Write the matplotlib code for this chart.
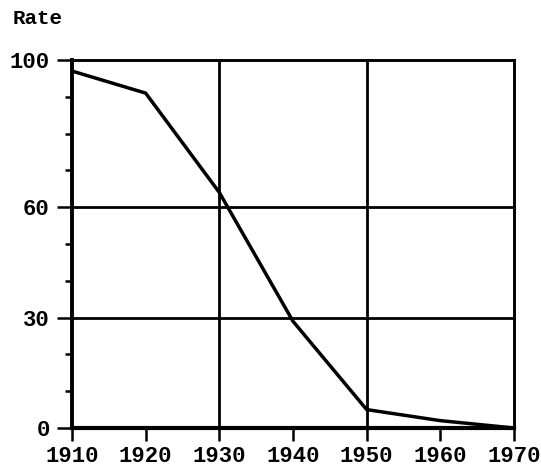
import numpy as np
import matplotlib
matplotlib.use("Agg")
import matplotlib.pyplot as plt
from matplotlib.ticker import MultipleLocator

# values
years = [1910, 1920, 1930, 1940, 1950, 1960, 1970]
rate = [97, 91, 64, 29, 5, 2, 0]
ytick_vals = [0, 30, 60, 100]
xtick_vals = [1910, 1920, 1930, 1940, 1950, 1960, 1970]
grid_x = [1930, 1950]
grid_y = [30, 60]

font = {"family": "Liberation Mono", "weight": "bold", "size": 16}

fig = plt.figure(figsize=(5.41, 4.73), dpi=100)
ax = fig.add_axes([72 / 541, 45 / 473, (514 - 72) / 541, (413 - 45) / 473])

ax.plot(years, rate, color="black", lw=2.5, solid_joinstyle="miter")

for gx in grid_x:
    ax.axvline(gx, color="black", lw=2.0)
for gy in grid_y:
    ax.axhline(gy, color="black", lw=2.0)

ax.set_xlim(1910, 1970)
ax.set_ylim(0, 100)

for s in ax.spines.values():
    s.set_linewidth(2.1)
ax.spines["left"].set_linewidth(2.8)
ax.spines["bottom"].set_linewidth(3.0)

ax.set_xticks(xtick_vals)
ax.set_xticklabels([str(v) for v in xtick_vals], fontdict=font)
ax.set_yticks(ytick_vals)
ax.set_yticklabels([str(v) for v in ytick_vals], fontdict=font)
ax.yaxis.set_minor_locator(MultipleLocator(10))

ax.tick_params(axis="x", which="major", direction="out", length=9, width=1.8, pad=4)
ax.tick_params(axis="y", which="major", direction="out", length=11, width=1.8, pad=5)
ax.tick_params(axis="y", which="minor", direction="out", length=5, width=1.8)

fig.text(13 / 541, 1 - 18 / 473, "Rate", fontdict={"family": "Liberation Mono", "weight": "bold", "size": 15},
         va="center", ha="left")

fig.savefig("out.png", dpi=100)
